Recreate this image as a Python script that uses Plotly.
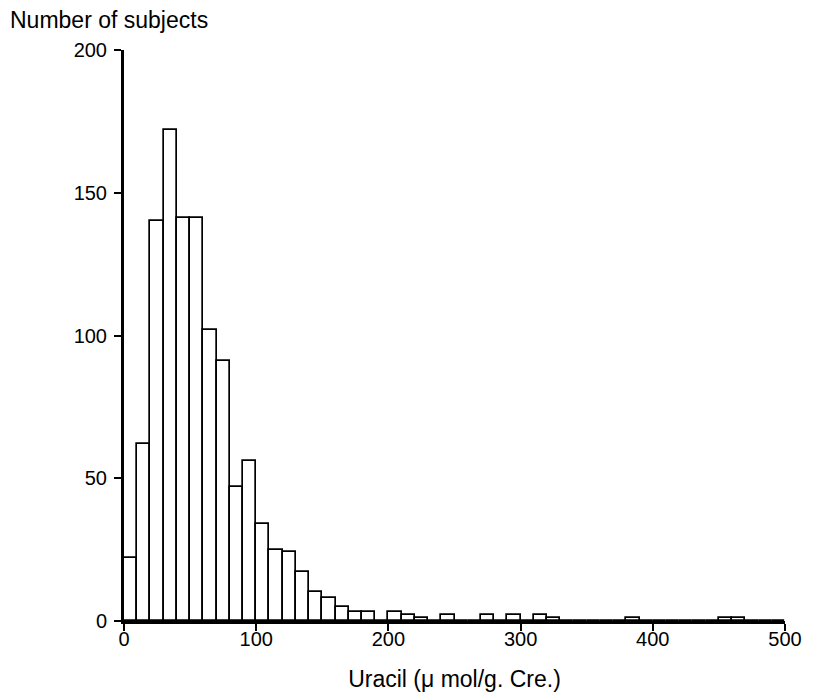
import plotly.graph_objects as go

# Histogram of urinary uracil (bins of 10 µmol/g creatinine)
bin_starts = list(range(0, 500, 10))
counts = [22, 62, 140, 172, 141, 141, 102, 91, 47, 56,
          34, 25, 24, 17, 10, 8, 5, 3, 3, 0,
          3, 2, 1, 0, 2, 0, 0, 2, 0, 2,
          0, 2, 1, 0, 0, 0, 0, 0, 1, 0,
          0, 0, 0, 0, 0, 1, 1, 0, 0, 0]
x_ticks = [0, 100, 200, 300, 400, 500]
y_ticks = [0, 50, 100, 150, 200]

FONT = "Liberation Sans, Arial, sans-serif"

fig = go.Figure()
fig.add_trace(go.Bar(
    x=bin_starts, y=counts, width=10, offset=0,
    marker=dict(color="white", line=dict(color="black", width=1.7)),
    hoverinfo="x+y", showlegend=False,
))

fig.update_layout(
    width=814, height=700,
    margin=dict(l=124, r=23, t=50, b=73),
    paper_bgcolor="white", plot_bgcolor="white",
    font=dict(family=FONT, size=20, color="black"),
    bargap=0,
    title=dict(text="Number of subjects", x=10/814, xref="container", xanchor="left",
               y=1 - 20/700, yref="container", yanchor="middle",
               font=dict(family=FONT, size=23, color="black")),
    xaxis=dict(range=[0, 500], tickvals=x_ticks, ticks="outside", ticklen=7, tickwidth=1.5,
               tickcolor="black", showline=True, linecolor="black", linewidth=3,
               showgrid=False, zeroline=False, ticklabelstandoff=-9,
               title=dict(text="Uracil (μ mol/g. Cre.)", standoff=22,
                          font=dict(family=FONT, size=23, color="black"))),
    yaxis=dict(range=[0, 200], tickvals=y_ticks, ticks="outside", ticklen=7, tickwidth=1.5,
               tickcolor="black", showline=True, linecolor="black", linewidth=3,
               showgrid=False, zeroline=False, ticklabelstandoff=3),
)

fig.write_html("out.html", config={"displayModeBar": False},
               post_script="document.body.style.margin='0px';")
